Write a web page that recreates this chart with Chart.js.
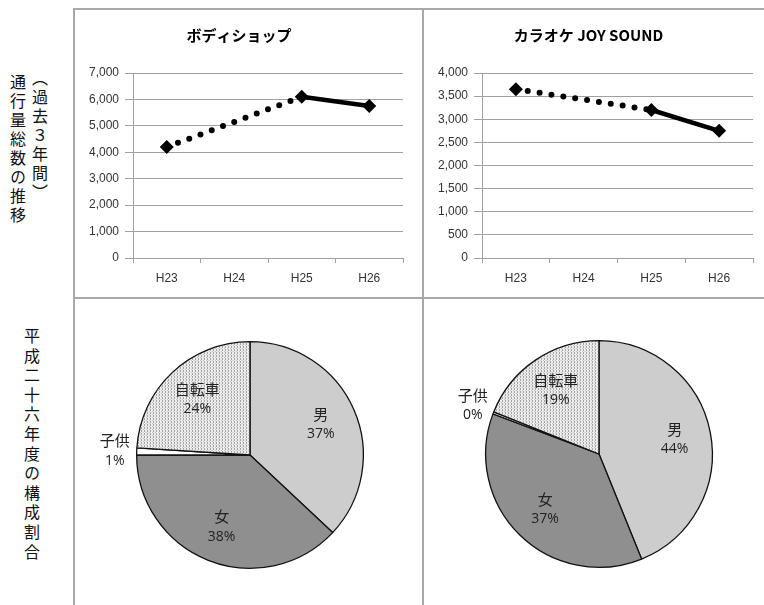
<!DOCTYPE html>
<html>
<head>
<meta charset="utf-8">
<script src="https://cdn.jsdelivr.net/npm/chart.js@4"></script>
<style>
  html, body { margin: 0; padding: 0; background: #fff; overflow: hidden; }
  body { width: 764px; height: 605px; position: relative; font-family: "Noto Sans CJK JP", sans-serif; }
  .vline, .hline { position: absolute; background: #a8a8a8; }
  canvas { position: absolute; }
  .vtext { position: absolute; writing-mode: vertical-rl; font-size: 16px; line-height: 20px; letter-spacing: 3px; color: #111; }
</style>
</head>
<body>
<div class="vtext" style="left:8px; top:74px;">通行量総数の推移</div>
<div class="vtext" style="left:30px; top:70px;">（過去３年間）</div>
<div class="vtext" style="left:22px; top:328px; letter-spacing:3.6px;">平成二十六年度の構成割合</div>

<div class="hline" style="left:73px; top:8px; width:700px; height:2px;"></div>
<div class="hline" style="left:73px; top:297px; width:700px; height:2px;"></div>
<div class="vline" style="left:73px; top:8px; width:2px; height:600px;"></div>
<div class="vline" style="left:422px; top:8px; width:2px; height:600px;"></div>

<canvas id="line1" style="left:75px; top:10px;" width="347" height="287"></canvas>
<canvas id="line2" style="left:424px; top:10px;" width="356" height="287"></canvas>
<canvas id="pie1" style="left:75px; top:299px;" width="347" height="306"></canvas>
<canvas id="pie2" style="left:424px; top:299px;" width="340" height="306"></canvas>

<script>
const years = ['H23', 'H24', 'H25', 'H26'];
const bodyShopTraffic = [4200, null, 6100, 5750];
const karaokeTraffic = [3650, null, 3200, 2750];

const pieLabels = ['男', '女', '子供', '自転車'];
const bodyShopShare = [37, 38, 1, 24];
const karaokeShare = [44, 37, 0.3, 19];

const axisGray = '#a0a0a0';
const textGray = '#333';

function dashOverGap(ctx) {
  return (ctx.p0.skip || ctx.p1.skip) ? [0, 12] : undefined;
}
function widthOverGap(ctx) {
  return (ctx.p0.skip || ctx.p1.skip) ? 6 : undefined;
}

function createLineChart(canvas, title, values, yMax, yStep, rightPad) {
  return new Chart(canvas, {
    type: 'line',
    data: {
      labels: years,
      datasets: [{
        data: values,
        borderColor: '#000',
        backgroundColor: '#000',
        borderWidth: 4.5,
        borderCapStyle: 'round',
        pointStyle: 'rectRot',
        pointRadius: 7,
        pointBorderWidth: 0,
        spanGaps: true,
        tension: 0,
        segment: { borderDash: dashOverGap, borderWidth: widthOverGap }
      }]
    },
    options: {
      responsive: false,
      animation: false,
      layout: { padding: { left: 0, right: rightPad, top: 0, bottom: 0 } },
      plugins: {
        legend: { display: false },
        tooltip: { enabled: false },
        title: {
          display: true,
          text: title,
          color: '#000',
          font: { family: 'Noto Sans CJK JP', size: 15, weight: 'bold' },
          padding: { top: 16, bottom: 29 }
        }
      },
      scales: {
        x: {
          offset: true,
          grid: { offset: true, drawOnChartArea: false, drawTicks: true, tickLength: 5, color: axisGray },
          border: { color: axisGray },
          ticks: { color: textGray, padding: 8, font: { family: 'Liberation Sans', size: 12 } },
          afterFit: s => { s.height = 39; }
        },
        y: {
          min: 0,
          max: yMax,
          ticks: {
            stepSize: yStep,
            color: textGray,
            padding: 6,
            font: { family: 'Liberation Sans', size: 12 },
            callback: v => v.toLocaleString('en-US')
          },
          grid: { color: axisGray, tickLength: 8 },
          border: { color: axisGray },
          afterFit: s => { s.width = 58; }
        }
      }
    }
  });
}

function dotPattern() {
  const c = document.createElement('canvas');
  c.width = 3; c.height = 3;
  const g = c.getContext('2d');
  g.fillStyle = '#ececec';
  g.fillRect(0, 0, 3, 3);
  g.fillStyle = '#a4a4a4';
  g.fillRect(0, 0, 1, 1);
  g.fillRect(0, 2, 1, 1);
  g.fillStyle = '#c4c4c4';
  g.fillRect(2, 1, 1, 1);
  return g.createPattern(c, 'repeat');
}

const pieLabelPlugin = {
  id: 'pieLabels',
  afterDatasetsDraw(chart) {
    const ctx = chart.ctx;
    const meta = chart.getDatasetMeta(0);
    const values = chart.data.datasets[0].data;
    ctx.save();
    ctx.textAlign = 'center';
    ctx.textBaseline = 'middle';
    meta.data.forEach((arc, i) => {
      const p = arc.getProps(['x', 'y', 'startAngle', 'endAngle', 'outerRadius'], true);
      const mid = (p.startAngle + p.endAngle) / 2;
      const small = values[i] < 3;
      const r = small ? p.outerRadius + 22 : p.outerRadius * 0.68;
      const x = p.x + Math.cos(mid) * r;
      const y = p.y + Math.sin(mid) * r;
      ctx.fillStyle = '#222';
      ctx.font = '15px "Noto Sans CJK JP"';
      ctx.fillText(pieLabels[i], x, y - 10);
      ctx.font = '14px "Open Sans"';
      ctx.fillText(Math.round(values[i]) + '%', x, y + 10);
    });
    ctx.restore();
  }
};

function createPieChart(canvas, values, pad) {
  return new Chart(canvas, {
    type: 'pie',
    data: {
      labels: pieLabels,
      datasets: [{
        data: values,
        backgroundColor: ['#cdcdcd', '#8f8f8f', '#ffffff', dotPattern()],
        borderColor: '#111',
        borderWidth: 1.3
      }]
    },
    options: {
      responsive: false,
      animation: false,
      layout: { padding: pad },
      plugins: { legend: { display: false }, tooltip: { enabled: false } }
    },
    plugins: [pieLabelPlugin]
  });
}

window.onload = () => {
  createLineChart(document.getElementById('line1'), 'ボディショップ', bodyShopTraffic, 7000, 1000, 19);
  createLineChart(document.getElementById('line2'), 'カラオケ JOY SOUND', karaokeTraffic, 4000, 500, 27);
  createPieChart(document.getElementById('pie1'), bodyShopShare, { left: 61, right: 58, top: 42, bottom: 36 });
  createPieChart(document.getElementById('pie2'), karaokeShare, { left: 61, right: 51, top: 41, bottom: 37 });
};
</script>
</body>
</html>
